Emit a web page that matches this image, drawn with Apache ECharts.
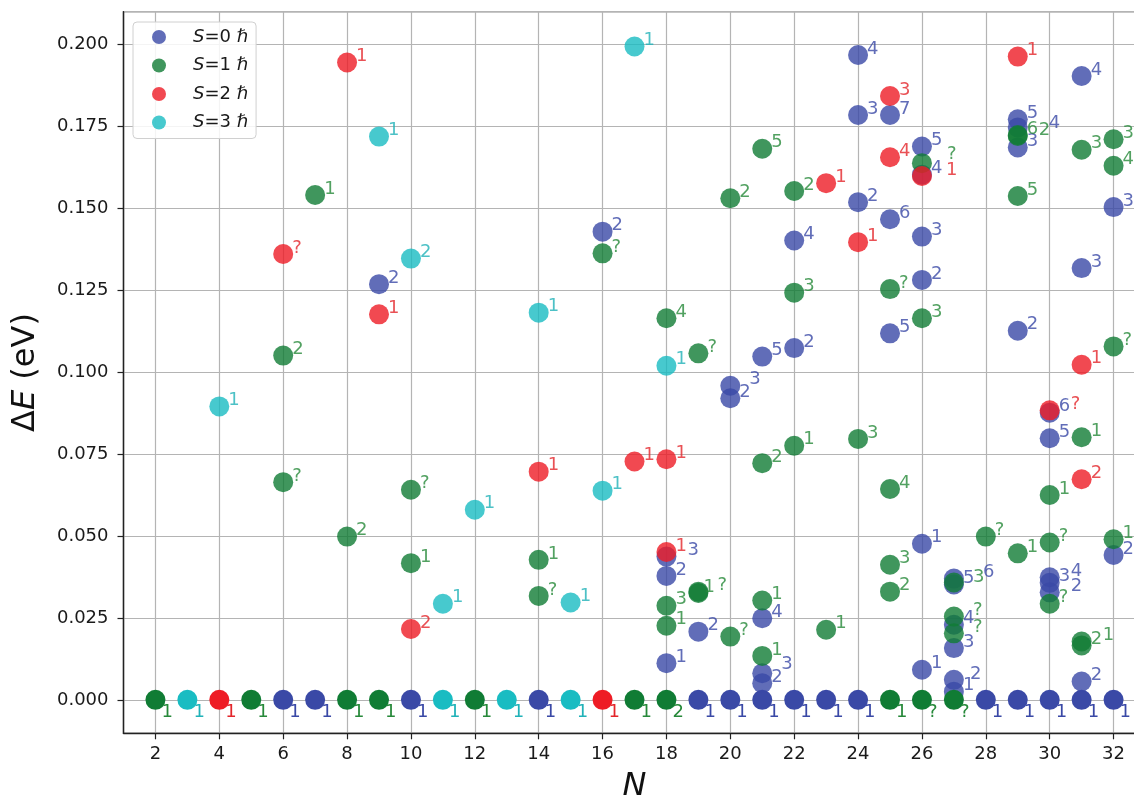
<!DOCTYPE html>
<html>
<head>
<meta charset="utf-8">
<script src="https://cdn.jsdelivr.net/npm/echarts@6/dist/echarts.min.js"></script>
<style>
  html, body { margin: 0; padding: 0; background: #ffffff; }
  #chart { width: 1134px; height: 797px; }
</style>
</head>
<body>
<div id="chart"></div>
<script>
// Excitation energies ΔE (eV) of low-lying states versus cluster size N,
// grouped by total spin S. Each entry: [N, ΔE, state tag].
const spin0 = [
  [6, 0, '1'], [7, 0, '1'], [10, 0, '1'], [14, 0, '1'], [19, 0, '1'], [20, 0, '1'],
  [21, 0, '1'], [22, 0, '1'], [23, 0, '1'], [24, 0, '1'], [28, 0, '1'], [29, 0, '1'],
  [30, 0, '1'], [31, 0, '1'], [32, 0, '1'],
  [9, 0.1268, '2'],
  [16, 0.1428, '2'],
  [18, 0.0112, '1'], [18, 0.0378, '2'], [18, 0.0437, '3'],
  [19, 0.0208, '2'],
  [20, 0.0920, '2'], [20, 0.0958, '3'],
  [21, 0.0051, '2'], [21, 0.0081, '3'], [21, 0.0249, '4'], [21, 0.1047, '5'],
  [22, 0.1073, '2'], [22, 0.1401, '4'],
  [24, 0.1518, '2'], [24, 0.1784, '3'], [24, 0.1967, '4'],
  [25, 0.1118, '5'], [25, 0.1466, '6'], [25, 0.1784, '7'],
  [26, 0.0092, '1'], [26, 0.0476, '1'], [26, 0.1281, '2'], [26, 0.1413, '3'],
  [26, 0.1602, '4'], [26, 0.1688, '5'],
  [27, 0.0025, '1'], [27, 0.0061, '2'], [27, 0.0158, '3'], [27, 0.0229, '4'],
  [27, 0.0352, '5'], [27, 0.0370, '6'],
  [29, 0.1126, '2'], [29, 0.1685, '3'], [29, 0.1746, '4'], [29, 0.1771, '5'],
  [30, 0.0328, '2'], [30, 0.0357, '3'], [30, 0.0374, '4'], [30, 0.0798, '5'], [30, 0.0876, '6'],
  [31, 0.0056, '2'], [31, 0.1317, '3'], [31, 0.1903, '4'],
  [32, 0.0442, '2'], [32, 0.1503, '3']
];

const spin1 = [
  [2, 0, '1'], [5, 0, '1'], [8, 0, '1'], [9, 0, '1'], [12, 0, '1'], [17, 0, '1'],
  [18, 0, '2'], [25, 0, '1'], [26, 0, '?'], [27, 0, '?'],
  [6, 0.0664, '?'], [6, 0.1050, '2'],
  [7, 0.1540, '1'],
  [8, 0.0498, '2'],
  [10, 0.0417, '1'], [10, 0.0641, '?'],
  [14, 0.0317, '?'], [14, 0.0427, '1'],
  [16, 0.1362, '?'],
  [18, 0.0226, '1'], [18, 0.0287, '3'], [18, 0.1164, '4'],
  [19, 0.0326, '1'], [19, 0.0330, '?'], [19, 0.1057, '?'],
  [20, 0.0193, '?'], [20, 0.1530, '2'],
  [21, 0.0134, '1'], [21, 0.0303, '1'], [21, 0.0722, '2'], [21, 0.1681, '5'],
  [22, 0.0775, '1'], [22, 0.1242, '3'], [22, 0.1552, '2'],
  [23, 0.0214, '1'],
  [24, 0.0796, '3'],
  [25, 0.0330, '2'], [25, 0.0412, '3'], [25, 0.0643, '4'], [25, 0.1253, '?'],
  [26, 0.1164, '3'], [26, 0.1637, '?'],
  [27, 0.0203, '?'], [27, 0.0254, '?'], [27, 0.0358, '3'],
  [28, 0.0498, '?'],
  [29, 0.0447, '1'], [29, 0.1537, '5'], [29, 0.1720, '2'], [29, 0.1723, '6'],
  [30, 0.0293, '?'], [30, 0.0480, '?'], [30, 0.0625, '1'],
  [31, 0.0166, '2'], [31, 0.0178, '1'], [31, 0.0801, '1'], [31, 0.1678, '3'],
  [32, 0.0490, '1'], [32, 0.1078, '?'], [32, 0.1629, '4'], [32, 0.1710, '3']
];

const spin2 = [
  [4, 0, '1'], [16, 0, '1'],
  [6, 0.1360, '?'], [8, 0.1944, '1'], [9, 0.1176, '1'], [10, 0.0216, '2'],
  [14, 0.0696, '1'], [17, 0.0727, '1'], [18, 0.0451, '1'], [18, 0.0734, '1'],
  [23, 0.1576, '1'], [24, 0.1396, '1'], [25, 0.1655, '4'], [25, 0.1842, '3'],
  [26, 0.1598, '1'], [29, 0.1962, '1'], [30, 0.0883, '?'], [31, 0.0673, '2'],
  [31, 0.1022, '1']
];

const spin3 = [
  [3, 0, '1'], [11, 0, '1'], [13, 0, '1'], [15, 0, '1'],
  [4, 0.0895, '1'], [9, 0.1718, '1'], [10, 0.1346, '2'], [11, 0.0293, '1'],
  [12, 0.0580, '1'], [14, 0.1181, '1'], [15, 0.0297, '1'], [16, 0.0638, '1'],
  [17, 0.1993, '1'], [18, 0.1019, '1']
];

const spinNames = ['S=0 ℏ', 'S=1 ℏ', 'S=2 ℏ', 'S=3 ℏ'];
const xTicks = [2, 4, 6, 8, 10, 12, 14, 16, 18, 20, 22, 24, 26, 28, 30, 32];
const yTicks = [0, 0.025, 0.05, 0.075, 0.1, 0.125, 0.15, 0.175, 0.2];

// Styling
const markerColors = ['#3a49a6', '#107c34', '#ee1c25', '#19bcc2'];
const tagColors = ['#3a49a6', '#27893a', '#e3262b', '#21b2b8'];
const FONT = 'DejaVu Sans';

// Extra horizontal/vertical shifts (px) for tags that would otherwise sit on top of each other.
const tagShift = {
  '0:29:4:0.1746': [22, 2],
  '1:29:2:0.172': [12, 0],
  '1:26:?:0.1637': [16, -3],
  '2:26:1:0.1598': [15, 0],
  '2:30:?:0.0883': [12, 0],
  '1:27:3:0.0358': [10, 1],
  '0:27:6:0.037': [20, 0],
  '1:27:?:0.0254': [10, 0],
  '1:27:?:0.0203': [10, 0],
  '0:27:2:0.0061': [7, 0],
  '0:30:4:0.0374': [12, 0],
  '0:30:2:0.0328': [12, 0],
  '1:31:1:0.0178': [12, 0],
  '1:19:1:0.0326': [-4, 0],
  '1:19:?:0.033': [10, 0],
  '0:18:3:0.0437': [12, 0],
  '0:20:3:0.0958': [10, 0],
  '0:21:3:0.0081': [10, -3]
};

function buildSeries(points, s) {
  const data = points.map(([n, e, tag]) => {
    const ground = e === 0;
    const shift = tagShift[`${s}:${n}:${tag}:${e}`] || [0, 0];
    return {
      value: [n, e],
      tag: tag,
      itemStyle: { opacity: ground ? 1 : 0.8 },
      label: ground
        ? { position: 'right', distance: -4, offset: [0, 12] }
        : { position: 'right', distance: 0, offset: [shift[0] - 1, -6 + shift[1]] }
    };
  });
  return {
    name: spinNames[s],
    type: 'scatter',
    symbol: 'circle',
    symbolSize: 20,
    itemStyle: { color: markerColors[s] },
    emphasis: { disabled: true },
    label: {
      show: true,
      formatter: p => p.data.tag,
      color: tagColors[s],
      fontFamily: FONT,
      fontSize: 18
    },
    data: data,
    z: 2 + s
  };
}

const chart = echarts.init(document.getElementById('chart'), null, { renderer: 'canvas' });

const near = (v, list) => list.some(t => Math.abs(t - v) < 1e-9);

chart.setOption({
  animation: false,
  backgroundColor: '#ffffff',
  grid: {
    left: 123.5,
    top: 11.7,
    width: 1022,
    height: 721.6,
    show: true,
    borderColor: '#222222',
    borderWidth: 1.3,
    backgroundColor: 'transparent',
    containLabel: false,
    outerBoundsMode: 'none'
  },
  legend: {
    orient: 'vertical',
    left: 133,
    top: 22,
    padding: [5, 8, 6, 19],
    itemWidth: 14,
    itemHeight: 14,
    itemGap: 8.5,
    icon: 'circle',
    backgroundColor: 'rgba(255,255,255,0.85)',
    borderColor: '#d0d0d0',
    borderWidth: 1,
    borderRadius: 4,
    data: spinNames,
    formatter: name => `{gap|}{it|S}{tx|${name.slice(1, -1)}}{it|ℏ}`,
    textStyle: {
      fontFamily: FONT,
      fontSize: 18,
      lineHeight: 20,
      color: '#1a1a1a',
      rich: {
        gap: { width: 22 },
        it: { fontFamily: FONT, fontSize: 18, fontStyle: 'italic', color: '#1a1a1a' },
        tx: { fontFamily: FONT, fontSize: 18, color: '#1a1a1a' }
      }
    }
  },
  xAxis: {
    type: 'value',
    min: 1,
    max: 33,
    minInterval: 2,
    maxInterval: 2,
    name: 'N',
    nameLocation: 'middle',
    nameGap: 37,
    nameTextStyle: { fontFamily: FONT, fontSize: 32, fontStyle: 'italic', color: '#111111' },
    axisLine: { show: true, onZero: false, lineStyle: { color: '#222222', width: 1.3 } },
    axisTick: { show: true, length: 6, lineStyle: { color: '#222222', width: 1.2 } },
    axisLabel: {
      margin: 12,
      fontFamily: FONT,
      fontSize: 18,
      color: '#1a1a1a',
      showMinLabel: false,
      showMaxLabel: false,
      formatter: v => (near(v, xTicks) ? String(Math.round(v)) : '')
    },
    splitLine: { show: true, lineStyle: { color: '#b4b4b4', width: 1.2 } }
  },
  yAxis: {
    type: 'value',
    min: -0.0102,
    max: 0.2099,
    minInterval: 0.025,
    maxInterval: 0.025,
    name: '{d|Δ}{e|E}{d| (eV)}',
    nameLocation: 'middle',
    nameGap: 82,
    nameRotate: 90,
    nameTextStyle: {
      fontFamily: FONT,
      fontSize: 32,
      color: '#111111',
      rich: {
        d: { fontFamily: FONT, fontSize: 32, color: '#111111' },
        e: { fontFamily: FONT, fontSize: 32, fontStyle: 'italic', color: '#111111' }
      }
    },
    axisLine: { show: true, onZero: false, lineStyle: { color: '#222222', width: 1.3 } },
    axisTick: { show: true, length: 6, lineStyle: { color: '#222222', width: 1.2 } },
    axisLabel: {
      margin: 15,
      fontFamily: FONT,
      fontSize: 18,
      color: '#1a1a1a',
      showMinLabel: false,
      showMaxLabel: false,
      formatter: v => (near(v, yTicks) ? v.toFixed(3) : '')
    },
    splitLine: { show: true, lineStyle: { color: '#b4b4b4', width: 1.2 } }
  },
  series: [spin0, spin1, spin2, spin3].map(buildSeries)
});
</script>
</body>
</html>
